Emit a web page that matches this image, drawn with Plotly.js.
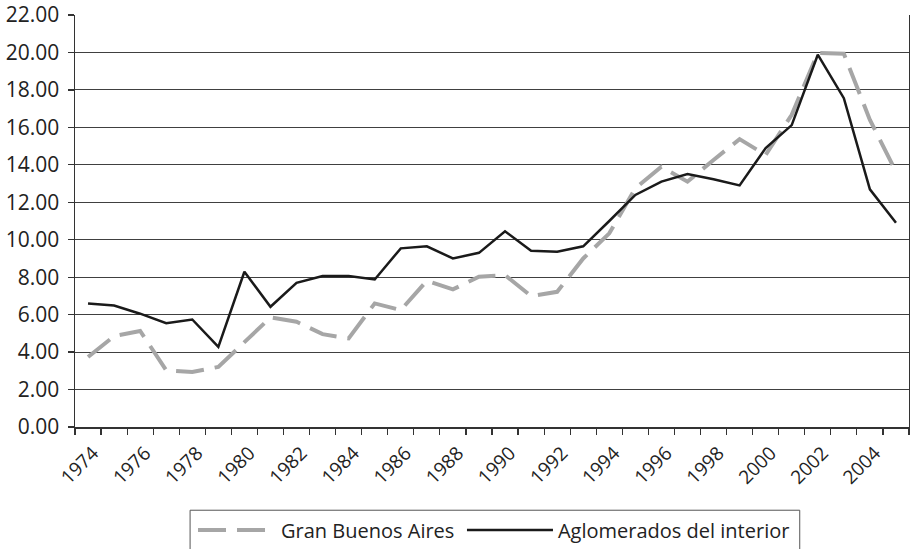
<!DOCTYPE html>
<html>
<head>
<meta charset="utf-8">
<script src="https://cdn.plot.ly/plotly-3.0.1.min.js"></script>
<style>html,body{margin:0;padding:0;background:#fff;}#chart{width:910px;height:549px;}</style>
</head>
<body>
<div id="chart"></div>
<script>
const years = [1974,1975,1976,1977,1978,1979,1980,1981,1982,1983,1984,1985,1986,1987,1988,1989,1990,1991,1992,1993,1994,1995,1996,1997,1998,1999,2000,2001,2002,2003,2004,2005];
const granBuenosAires = [3.74,4.85,5.13,3.03,2.94,3.21,4.53,5.85,5.62,4.96,4.73,6.60,6.24,7.81,7.35,8.02,8.11,6.99,7.22,9.00,10.34,12.75,13.90,13.10,14.26,15.37,14.53,16.67,19.97,19.93,16.40,13.64];
const interior = [6.60,6.49,6.05,5.54,5.74,4.28,8.29,6.42,7.70,8.06,8.06,7.88,9.54,9.65,9.00,9.30,10.45,9.41,9.36,9.65,11.00,12.39,13.10,13.51,13.23,12.90,14.89,16.12,19.88,17.56,12.69,10.91];
const seriesNames = ["Gran Buenos Aires", "Aglomerados del interior"];

const FONT = '"Open Sans", "Noto Sans", sans-serif';

const traces = [
  {x: years, y: granBuenosAires, name: seriesNames[0], type: 'scatter', mode: 'lines', legend: 'legend',
   line: {color: '#a6a6a6', width: 4, dash: '28px,11px'}},
  {x: years, y: interior, name: seriesNames[1], type: 'scatter', mode: 'lines', legend: 'legend2',
   line: {color: '#1a1a1a', width: 2.5}}
];

const legendCommon = {orientation: 'h', xanchor: 'left', y: -0.25, yanchor: 'middle',
  font: {family: FONT, size: 20, color: '#222'}, bgcolor: 'rgba(0,0,0,0)', borderwidth: 0};

const layout = {
  width: 910, height: 549,
  margin: {l: 75, r: 1, t: 15, b: 122, autoexpand: false},
  paper_bgcolor: '#fff', plot_bgcolor: '#fff',
  font: {family: FONT, color: '#222', size: 15},
  showlegend: true,
  legend: Object.assign({}, legendCommon, {x: 0.1415, itemwidth: 78}),
  legend2: Object.assign({}, legendCommon, {x: 0.464, itemwidth: 86}),
  shapes: [{type: 'rect', xref: 'paper', yref: 'paper', x0: 0.138, x1: 0.869, y0: -0.202, y1: -0.5,
            line: {color: '#555', width: 1}, fillcolor: 'rgba(0,0,0,0)', layer: 'above'}],
  xaxis: {
    range: [1973.5, 2005.5], tickmode: 'linear', tick0: 1974, dtick: 2, automargin: false,
    ticks: '', tickangle: -45, tickfont: {family: FONT, size: 19, color: '#222'},
    ticklabelstandoff: 6, ticklabelshift: 5,
    showgrid: false, zeroline: false, showline: true, linecolor: '#333', linewidth: 1.5,
    minor: {tick0: 1973.5, dtick: 1, ticks: 'outside', ticklen: 6, tickcolor: '#333', tickwidth: 1.2, showgrid: false},
    fixedrange: true
  },
  yaxis: {
    range: [0, 22], tickmode: 'linear', tick0: 0, dtick: 2, tickformat: '.2f', automargin: false,
    ticks: 'outside', ticklen: 6, tickcolor: '#333', tickwidth: 1.2,
    tickfont: {family: FONT, size: 21, color: '#222'}, ticklabelstandoff: 4,
    showgrid: true, gridcolor: '#404040', gridwidth: 1,
    zeroline: false, showline: true, linecolor: '#333', linewidth: 1.5, mirror: true,
    fixedrange: true
  }
};

Plotly.newPlot('chart', traces, layout, {staticPlot: true, displayModeBar: false});
</script>
</body>
</html>
